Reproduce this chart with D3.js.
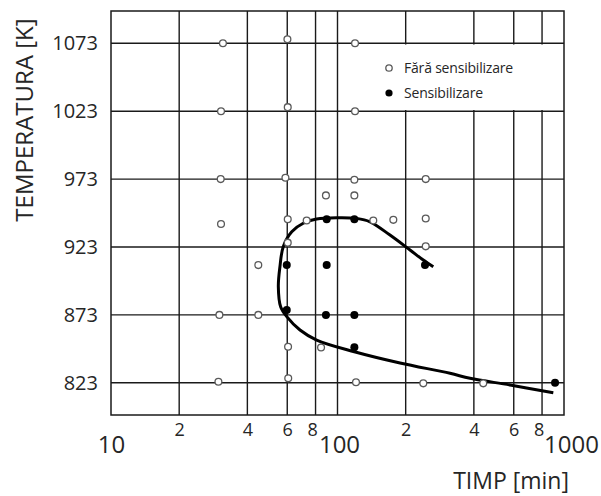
<!DOCTYPE html>
<html>
<head>
<meta charset="utf-8">
<script src="https://cdn.jsdelivr.net/npm/d3@7"></script>
<style>
  body { margin: 0; background: #fff; }
  text { font-family: "Open Sans", sans-serif; fill: #262626; }
</style>
</head>
<body>
<div id="chart"></div>
<script>
// open circles: fără sensibilizare
const openTime = [31.2, 60.1, 119.5, 30.6, 60.3, 119.5, 30.5, 58.9, 118.7, 245.2, 88.9, 118.7,
  30.6, 60.3, 73.1, 143.9, 176.4, 245.2, 60.3, 245.2, 44.7, 30.1, 44.7, 60.5, 84.6,
  29.8, 60.6, 120.7, 239.2, 440];
const openTemp = [1073, 1076, 1073, 1023, 1026, 1023, 973, 974, 972.5, 973, 961, 961,
  940, 943.4, 942.5, 942.5, 943, 944, 926.2, 923.5, 909.7, 873, 873, 849.6, 849,
  823.8, 826.3, 823.4, 822.6, 822.6];

// filled circles: sensibilizare
const fillTime = [89.6, 118.7, 59.7, 89.6, 243.4, 59.7, 88.9, 118.7, 118.7, 913];
const fillTemp = [943.4, 943.4, 909.7, 909.7, 909.7, 876.6, 873, 873, 849.2, 823];

// C-curve
const curveTime = [264.8, 239.2, 209, 170.5, 139.2, 121.5, 99.2, 80.9, 70.6, 62.8, 57.6, 55.7,
  54.8, 56.1, 59.7, 68.3, 80.9, 118.7, 188.8, 313.9, 384.6, 577.7, 897];
const curveTemp = [908.5, 913.4, 920.8, 931.8, 941.6, 944.1, 944.6, 943.6, 940.5, 934.3, 923.2, 908.5,
  893.8, 879, 871.7, 861.9, 854.5, 845.9, 837.6, 830, 826.3, 821.4, 815.7];

const tempTicks = [823, 873, 923, 973, 1023, 1073];
const minorTicks = [20, 40, 60, 80, 200, 400, 600, 800];
const decadeTicks = [10, 100, 1000];
const gridX = [20, 40, 60, 80, 100, 200, 400, 600, 800];

const width = 601, height = 496;
const margin = { left: 111, right: 564, top: 11, bottom: 415 };

const svg = d3.select('#chart').append('svg')
  .attr('width', width)
  .attr('height', height);

const x = d3.scaleLog().domain([10, 1000]).range([margin.left, margin.right]);
const y = d3.scaleLinear().domain([799.3, 1096.8]).range([margin.bottom, margin.top]);

// grid
svg.append('g').selectAll('line')
  .data(tempTicks).enter().append('line')
  .attr('x1', margin.left).attr('x2', margin.right)
  .attr('y1', d => y(d)).attr('y2', d => y(d))
  .attr('stroke', '#1a1a1a').attr('stroke-width', 1.4);

svg.append('g').selectAll('line')
  .data(gridX).enter().append('line')
  .attr('x1', d => x(d)).attr('x2', d => x(d))
  .attr('y1', margin.top).attr('y2', margin.bottom)
  .attr('stroke', '#1a1a1a').attr('stroke-width', 1.4);

// legend box hides the grid
svg.append('rect')
  .attr('x', x(100) + 1.5).attr('y', y(1073) + 1.2)
  .attr('width', margin.right - x(100) - 2.5).attr('height', y(1023) - y(1073) - 2.4)
  .attr('fill', '#fff');

svg.append('rect')
  .attr('x', margin.left).attr('y', margin.top)
  .attr('width', margin.right - margin.left).attr('height', margin.bottom - margin.top)
  .attr('fill', 'none').attr('stroke', '#1a1a1a').attr('stroke-width', 1.5);

// axes (labels only)
const yAxis = svg.append('g')
  .attr('transform', `translate(${margin.left},0)`)
  .call(d3.axisLeft(y).tickValues(tempTicks).tickSize(0).tickPadding(13)
    .tickFormat(d3.format('d')));
yAxis.select('.domain').remove();
yAxis.selectAll('text').style('font-size', '20px');

const xMinor = svg.append('g')
  .attr('transform', `translate(0,${margin.bottom})`)
  .call(d3.axisBottom(x).tickValues(minorTicks).tickSize(0).tickPadding(8)
    .tickFormat(d => String(d).charAt(0)));
xMinor.select('.domain').remove();
xMinor.selectAll('text').style('font-size', '18px');
// the 8s sit a little left of their lines, next to the decade labels
xMinor.selectAll('.tick').filter(d => d === 80 || d === 800).select('text').attr('dx', -3.5);

const xMajor = svg.append('g')
  .attr('transform', `translate(0,${margin.bottom})`)
  .call(d3.axisBottom(x).tickValues(decadeTicks).tickSize(0).tickPadding(21)
    .tickFormat(d3.format('d')));
xMajor.select('.domain').remove();
xMajor.selectAll('text').style('font-size', '24px');
xMajor.selectAll('.tick').filter(d => d === 100).select('text').attr('dx', 1.5);
xMajor.selectAll('.tick').filter(d => d === 1000).select('text').attr('dx', 7);

// axis titles
svg.append('text')
  .attr('transform', 'translate(33,120) rotate(-90)')
  .attr('text-anchor', 'middle')
  .style('font-size', '24px')
  .text('TEMPERATURA [K]');

svg.append('text')
  .attr('x', 569).attr('y', 489)
  .attr('text-anchor', 'end')
  .style('font-size', '23px')
  .text('TIMP [min]');

// curve
const line = d3.line()
  .x(d => x(d[0])).y(d => y(d[1]))
  .curve(d3.curveCatmullRom.alpha(0.5));

svg.append('path')
  .datum(curveTime.map((t, i) => [t, curveTemp[i]]))
  .attr('d', line)
  .attr('fill', 'none')
  .attr('stroke', '#000')
  .attr('stroke-width', 3);

// points
svg.append('g').selectAll('circle')
  .data(openTime.map((t, i) => [t, openTemp[i]]))
  .enter().append('circle')
  .attr('cx', d => x(d[0])).attr('cy', d => y(d[1]))
  .attr('r', 3.4)
  .attr('fill', '#fff').attr('stroke', '#5a5a5a').attr('stroke-width', 1.3);

svg.append('g').selectAll('circle')
  .data(fillTime.map((t, i) => [t, fillTemp[i]]))
  .enter().append('circle')
  .attr('cx', d => x(d[0])).attr('cy', d => y(d[1]))
  .attr('r', 4)
  .attr('fill', '#000');

// legend
const legend = svg.append('g').attr('transform', 'translate(389,68)');
legend.append('circle').attr('r', 3.2)
  .attr('fill', '#fff').attr('stroke', '#5a5a5a').attr('stroke-width', 1.3);
legend.append('text').attr('x', 15).attr('y', 5)
  .style('font-size', '14px').style('letter-spacing', '-0.2px')
  .text('Fără sensibilizare');
legend.append('circle').attr('cy', 25).attr('r', 3.6).attr('fill', '#000');
legend.append('text').attr('x', 15).attr('y', 30)
  .style('font-size', '14px').style('letter-spacing', '-0.2px')
  .text('Sensibilizare');
</script>
</body>
</html>
